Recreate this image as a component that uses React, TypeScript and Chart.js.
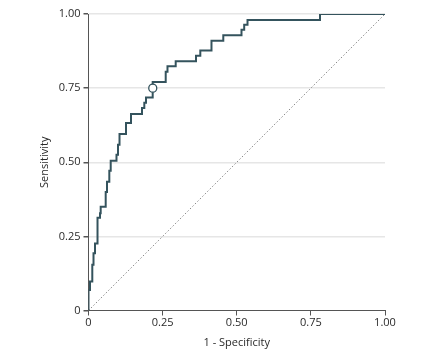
import React, { useEffect, useRef } from "react";
import { Chart, registerables } from "chart.js";

Chart.register(...registerables);

// ROC curve step points (1 - specificity, sensitivity)
const fpr = [0, 0.005, 0.0128, 0.0169, 0.0219, 0.0304, 0.0388, 0.0411, 0.058, 0.0624, 0.0702, 0.0749, 0.0944, 0.0995, 0.1046, 0.1265, 0.1433, 0.1804, 0.1882, 0.1939, 0.2165, 0.2604, 0.2664, 0.2941, 0.3626, 0.3771, 0.4148, 0.4546, 0.516, 0.5251, 0.5363, 0.7808, 1.0];
const tpr = [0, 0.069, 0.098, 0.154, 0.193, 0.226, 0.3125, 0.328, 0.35, 0.4, 0.434, 0.471, 0.505, 0.525, 0.559, 0.595, 0.632, 0.663, 0.683, 0.701, 0.718, 0.771, 0.805, 0.824, 0.841, 0.859, 0.877, 0.91, 0.928, 0.947, 0.964, 0.98, 1.0];

// Optimal cut-off point
const cutoffFpr = [0.2167];
const cutoffTpr = [0.75];

// Reference (chance) line
const refX = [0, 1];
const refY = [0, 1];

const tickValues = [0, 0.25, 0.5, 0.75, 1];
const tickLabels = ["0", "0.25", "0.50", "0.75", "1.00"];

const xTitle = "1 - Specificity";
const yTitle = "Sensitivity";

const lineColor = "#34535d";
const axisColor = "#555555";
const gridColor = "#e6e6e6";
const textColor = "#2a2a2a";
const fontFamily = "'Open Sans', Lato, sans-serif";

const labelFor = (v: number) => {
  const i = tickValues.findIndex((t) => Math.abs(t - v) < 1e-6);
  return i >= 0 ? tickLabels[i] : "";
};

export default function App() {
  const ref = useRef<HTMLCanvasElement | null>(null);

  useEffect(() => {
    if (!ref.current) return;
    const chart = new Chart(ref.current, {
      type: "scatter",
      data: {
        datasets: [
          {
            label: "cutoff",
            data: cutoffFpr.map((x, i) => ({ x, y: cutoffTpr[i] })),
            pointRadius: 4,
            pointBackgroundColor: "#ffffff",
            pointBorderColor: lineColor,
            pointBorderWidth: 1.3,
            showLine: false,
            order: 0,
          },
          {
            label: "ROC",
            data: fpr.map((x, i) => ({ x, y: tpr[i] })),
            showLine: true,
            stepped: "after",
            borderColor: lineColor,
            borderWidth: 2,
            pointRadius: 0,
            fill: false,
            order: 1,
          },
          {
            label: "reference",
            data: refX.map((x, i) => ({ x, y: refY[i] })),
            showLine: true,
            borderColor: "#8a8a8a",
            borderWidth: 1,
            borderDash: [1.5, 2],
            pointRadius: 0,
            fill: false,
            order: 2,
          },
        ],
      },
      options: {
        responsive: false,
        animation: false,
        layout: { padding: { left: 0, right: 46, top: 14, bottom: 0 } },
        plugins: { legend: { display: false }, tooltip: { enabled: false } },
        scales: {
          x: {
            type: "linear",
            min: 0,
            max: 1,
            afterBuildTicks: (s: any) => {
              s.ticks = tickValues.map((v) => ({ value: v }));
            },
            afterFit: (s: any) => {
              s.height = 45.5;
            },
            ticks: {
              callback: (v: any) => labelFor(Number(v)),
              color: textColor,
              font: { family: fontFamily, size: 11 },
              padding: 1,
              maxRotation: 0,
            },
            grid: {
              drawOnChartArea: false,
              drawTicks: true,
              tickLength: 5,
              tickColor: axisColor,
            },
            border: { color: axisColor, width: 1 },
            title: {
              display: true,
              text: xTitle,
              color: textColor,
              font: { family: fontFamily, size: 11 },
              padding: { top: 0, bottom: 7 },
            },
          },
          y: {
            type: "linear",
            min: 0,
            max: 1,
            afterBuildTicks: (s: any) => {
              s.ticks = tickValues.map((v) => ({ value: v }));
            },
            afterFit: (s: any) => {
              s.width = 88.5;
            },
            ticks: {
              callback: (v: any) => labelFor(Number(v)),
              color: textColor,
              font: { family: fontFamily, size: 11 },
              padding: 3,
            },
            grid: {
              color: (ctx: any) => (ctx.tick && ctx.tick.value === 0 ? "rgba(0,0,0,0)" : gridColor),
              lineWidth: 1.5,
              tickLength: 5,
              tickColor: axisColor,
            },
            border: { color: axisColor, width: 1 },
            title: {
              display: true,
              text: yTitle,
              color: textColor,
              font: { family: fontFamily, size: 11 },
              padding: { top: 38, bottom: 0 },
            },
          },
        },
      },
    });
    return () => chart.destroy();
  }, []);

  return (
    <div style={{ position: "absolute", left: 0, top: 0, width: 431, height: 356, background: "#ffffff" }}>
      <canvas ref={ref} width={431} height={356} />
    </div>
  );
}
